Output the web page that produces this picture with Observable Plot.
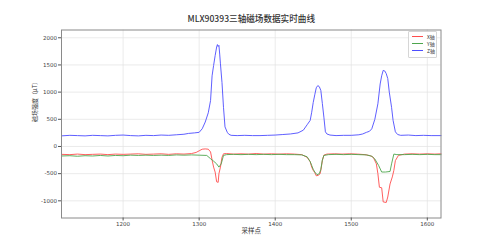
<!DOCTYPE html>
<html>
<head>
<meta charset="utf-8">
<script src="https://cdn.jsdelivr.net/npm/d3@7"></script>
<script src="https://cdn.jsdelivr.net/npm/@observablehq/plot@0.6"></script>
<style>
  html, body { margin: 0; padding: 0; background: #fff; }
  #wrap { position: relative; width: 489px; height: 245px; overflow: hidden; }
  #legend { position: absolute; left: 408px; top: 31px; width: 29px; height: 27px; box-sizing: border-box; border: 1px solid #d6d6d6; border-radius: 1px; background: rgba(255,255,255,0.85); font-family: "Noto Sans CJK SC", sans-serif; font-size: 5px; line-height: 7px; color: #333; }
  #legend .sw { position: absolute; left: 3px; width: 11px; height: 1px; }
  #legend .lab { position: absolute; left: 18px; }
</style>
</head>
<body>
<div id="wrap"></div>
<script>
const title = "MLX90393三轴磁场数据实时曲线";
const xLabel = "采样点";
const yLabel = "磁场强度（μT）";
const seriesNames = ["X轴", "Y轴", "Z轴"];
const seriesColors = ["#ff4d4d", "#4da64d", "#4d4dff"];
const xTicks = [1200, 1300, 1400, 1500, 1600];
const yTicks = [-1000, -500, 0, 500, 1000, 1500, 2000];
const xDomain = [1119, 1618];
const yDomain = [-1316, 2143];

// X axis (red) samples
const xSampleX = [1119,1130,1140,1150,1160,1170,1180,1190,1200,1210,1220,1230,1240,1250,1260,1270,1280,1290,1296,1300,1304,1308,1312,1315,1317,1319,1321,1323,1325,1326,1328,1330,1332,1336,1345,1355,1365,1375,1385,1395,1405,1415,1425,1435,1442,1446,1448,1450,1452,1454,1457,1459,1460,1462,1464,1468,1478,1488,1498,1508,1518,1525,1529,1533,1535,1537,1540,1542,1546,1548,1551,1554,1556,1558,1562,1570,1580,1590,1600,1610,1618];
const xSeries  = [-145,-150,-140,-150,-145,-140,-150,-140,-145,-140,-135,-145,-140,-135,-145,-135,-140,-130,-110,-80,-50,-45,-50,-100,-250,-380,-470,-650,-660,-500,-380,-200,-135,-130,-140,-135,-140,-130,-140,-135,-140,-135,-140,-150,-200,-280,-380,-440,-480,-540,-530,-500,-440,-260,-160,-140,-135,-140,-135,-140,-150,-170,-200,-320,-500,-750,-760,-1020,-1030,-930,-690,-560,-440,-260,-165,-140,-135,-140,-135,-140,-135];

// Y axis (green) samples
const ySampleX = [1119,1130,1140,1150,1160,1170,1180,1190,1200,1210,1220,1230,1240,1250,1260,1270,1280,1290,1300,1310,1315,1319,1323,1326,1329,1332,1336,1345,1355,1365,1375,1385,1395,1405,1415,1425,1435,1442,1446,1448,1450,1452,1455,1458,1460,1462,1464,1470,1480,1490,1500,1510,1520,1527,1531,1536,1540,1545,1551,1553,1556,1560,1570,1580,1590,1600,1610,1618];
const ySeries  = [-175,-170,-180,-170,-175,-165,-175,-165,-170,-160,-165,-160,-165,-160,-165,-155,-160,-155,-160,-165,-225,-270,-320,-380,-320,-165,-150,-145,-150,-145,-150,-145,-150,-145,-150,-150,-155,-190,-280,-350,-420,-470,-520,-500,-420,-250,-165,-150,-145,-150,-145,-150,-155,-180,-230,-350,-470,-470,-460,-320,-140,-150,-150,-145,-150,-145,-150,-150];

// Z axis (blue) samples
const zSampleX = [1119,1130,1140,1150,1160,1170,1180,1190,1200,1210,1220,1230,1240,1250,1260,1270,1280,1286,1294,1300,1304,1308,1312,1315,1317,1319,1321,1323,1324,1325,1326,1327,1328,1330,1332,1334,1337,1339,1342,1350,1360,1370,1380,1390,1400,1410,1420,1430,1437,1442,1446,1448,1450,1452,1454,1456,1458,1460,1462,1464,1466,1468,1472,1480,1490,1500,1510,1515,1520,1524,1527,1531,1535,1538,1540,1542,1544,1546,1548,1550,1553,1555,1558,1561,1565,1575,1585,1595,1605,1618];
const zSeries  = [195,205,200,195,205,200,195,205,210,200,195,205,200,210,205,215,225,240,250,260,325,450,620,845,1300,1490,1670,1830,1875,1840,1860,1700,1520,1180,720,360,260,225,205,200,205,200,200,205,210,220,230,250,300,400,480,630,810,950,1080,1120,1100,1030,790,540,270,230,210,200,205,205,215,230,260,280,325,500,785,1150,1300,1400,1390,1340,1250,1000,720,480,270,220,205,210,200,205,200,200];

const rows = [];
[[xSampleX, xSeries], [ySampleX, ySeries], [zSampleX, zSeries]].forEach(([xs, ys], i) => {
  xs.forEach((s, j) => rows.push({sample: s, value: ys[j], series: seriesNames[i]}));
});

const font = "'DejaVu Sans', sans-serif";
const cjk = "'Noto Sans CJK SC', 'DejaVu Sans', sans-serif";

const chart = Plot.plot({
  width: 489,
  height: 245,
  marginLeft: 61,
  marginRight: 48.5,
  marginTop: 29.5,
  marginBottom: 27.5,
  style: {fontFamily: font, fontSize: "5.5px", color: "#333", background: "#fff"},
  x: {domain: xDomain},
  y: {domain: yDomain},
  color: {domain: seriesNames, range: seriesColors},
  marks: [
    Plot.gridX(xTicks, {stroke: "#e3e3e3", strokeOpacity: 1, strokeWidth: 0.7}),
    Plot.gridY(yTicks, {stroke: "#e3e3e3", strokeOpacity: 1, strokeWidth: 0.7}),
    Plot.line(rows, {x: "sample", y: "value", z: "series", stroke: "series", strokeWidth: 0.9}),
    Plot.frame({stroke: "#8a8a8a", strokeWidth: 1}),
    Plot.axisX({ticks: xTicks, tickFormat: d => String(d), tickSize: 3, tickPadding: 1.5, label: null, stroke: "#555", fill: "#444", fontSize: 5.5}),
    Plot.axisY({ticks: yTicks, tickFormat: d => String(d), tickSize: 3, tickPadding: 1.5, label: null, stroke: "#555", fill: "#444", fontSize: 5.5}),
    Plot.text([title], {frameAnchor: "top", dy: -14, text: d => d, fontFamily: cjk, fontSize: 8.6, fontWeight: 500, fill: "#333"}),
    Plot.text([xLabel], {frameAnchor: "bottom", dy: 15, text: d => d, fontFamily: cjk, fontSize: 6.5, fill: "#333"}),
    Plot.text([yLabel], {frameAnchor: "left", dx: -26, dy: -2, rotate: -90, text: d => d, fontFamily: cjk, fontSize: 6, fill: "#333"})
  ]
});

const wrap = document.getElementById("wrap");
wrap.appendChild(chart);

const legend = document.createElement("div");
legend.id = "legend";
seriesNames.forEach((name, i) => {
  const sw = document.createElement("div");
  sw.className = "sw";
  sw.style.top = (4 + i * 7) + "px";
  sw.style.backgroundColor = seriesColors[i];
  const lab = document.createElement("div");
  lab.className = "lab";
  lab.style.top = (1 + i * 7) + "px";
  lab.textContent = name;
  legend.appendChild(sw);
  legend.appendChild(lab);
});
wrap.appendChild(legend);
</script>
</body>
</html>
